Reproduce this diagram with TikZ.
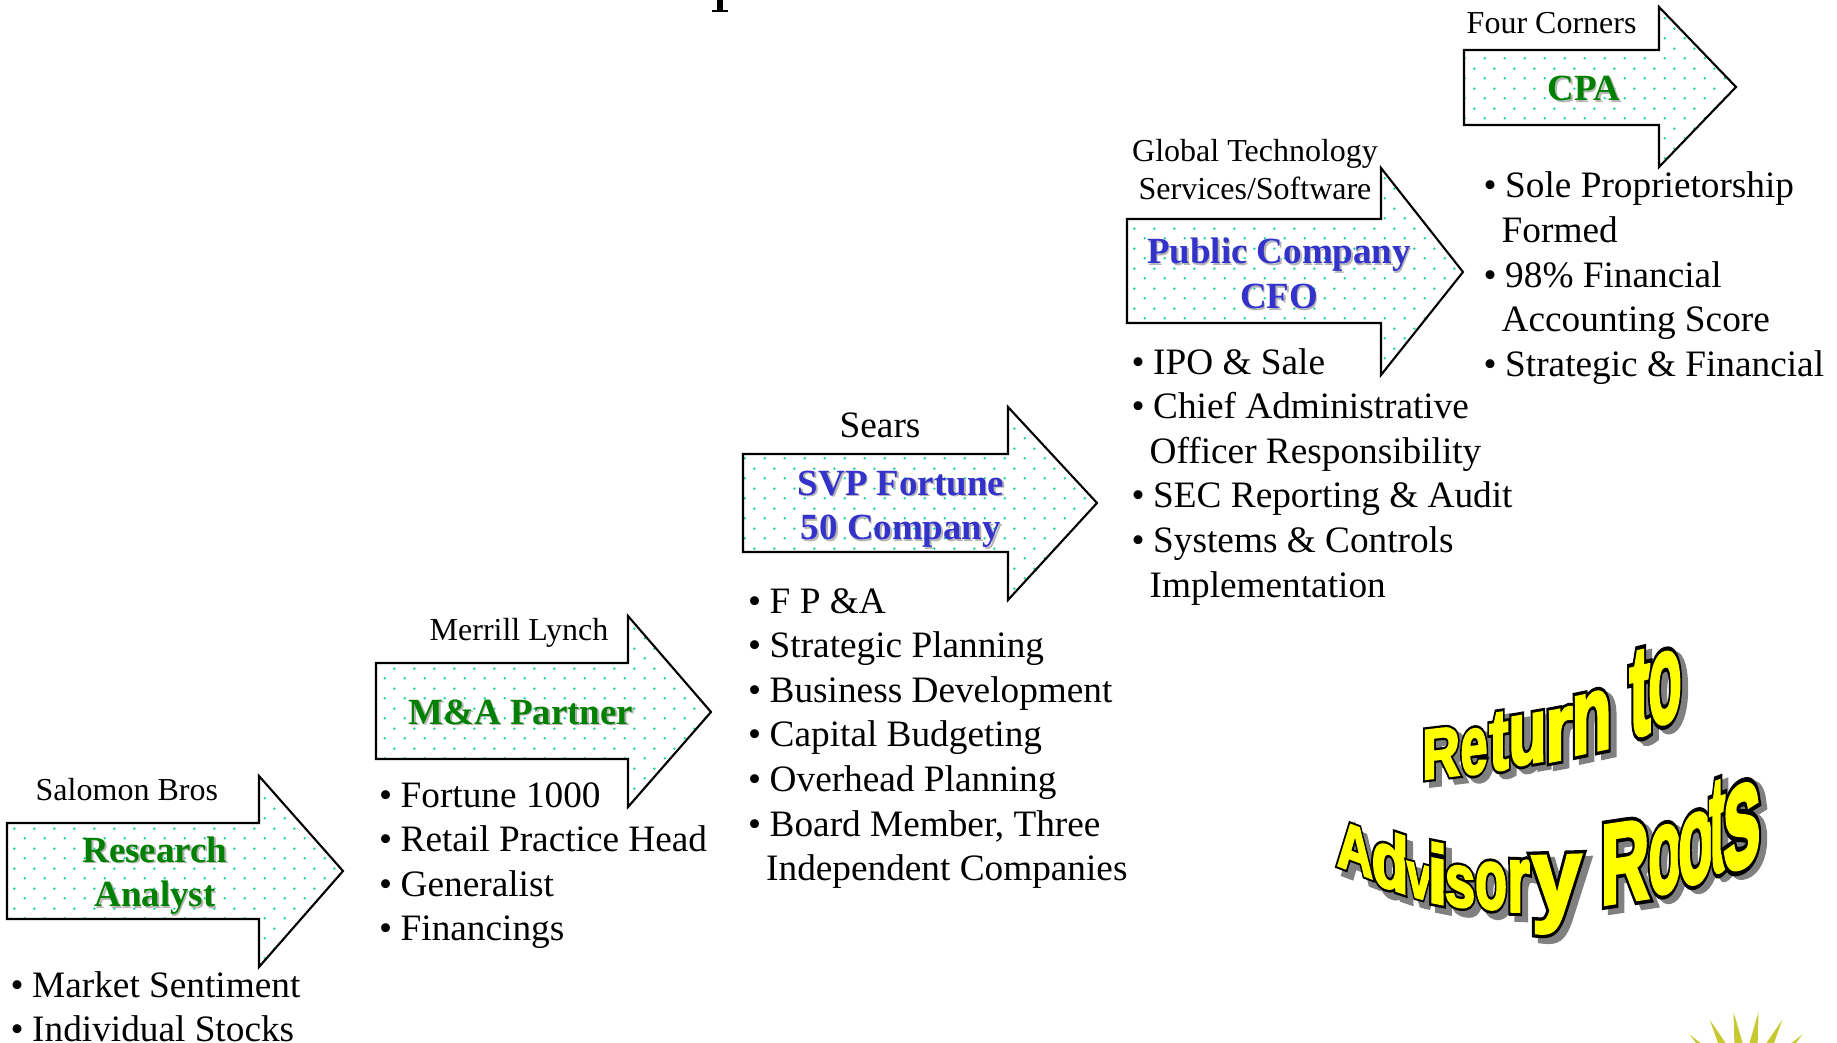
\documentclass[tikz,border=0pt]{standalone}
\usepackage{fontspec}
\setmainfont{Liberation Serif}
\newfontfamily\wafont{Liberation Sans Bold}[FakeBold=3.5]
\newfontfamily\wablack{Liberation Sans Bold}[FakeBold=10]
\usetikzlibrary{patterns}
\definecolor{dotteal}{RGB}{30,212,168}
\definecolor{ttlgreen}{RGB}{0,128,0}
\definecolor{ttlblue}{RGB}{51,51,204}
\definecolor{ttlshadow}{RGB}{180,180,180}
\definecolor{wagray}{RGB}{128,128,128}
\definecolor{wayellow}{RGB}{255,255,0}
\definecolor{burst}{RGB}{200,200,50}
\pgfdeclarepatternformonly{arrowdots}{\pgfpointorigin}{\pgfpoint{0.2cm}{0.2cm}}{\pgfpoint{0.2cm}{0.2cm}}{%
  \pgfpathcircle{\pgfpoint{0.05cm}{0.05cm}}{0.4pt}%
  \pgfpathcircle{\pgfpoint{0.15cm}{0.15cm}}{0.4pt}%
  \pgfusepath{fill}}
\newcommand\bulmark{\makebox[0.215cm][l]{\textbullet}}
\newcommand\bulline[1]{\hbox{\bulmark #1}}
\newcommand\contline[1]{\hbox{\hspace{0.215cm}\kern-1pt #1}}
\newcommand\ttlnode[5]{%
  \node[ttl, text=ttlshadow] (#1s) at (#2+1.6,#3+1.6) {\vtop{\halign{\hfil##\hfil\cr #5\cr}}};
  \node[ttl, text=#4] (#1) at (#2,#3) {\vtop{\halign{\hfil##\hfil\cr #5\cr}}};}
\newcommand\waL[7]{%
  \begin{scope}[shift={(#2,#3)}, yslant=#4]
    \node[waletter, text=wagray, xscale=#5, yscale=#6] (#1s) at (6,6) {\wablack #7};
    \node[waletter, text=black, xscale=#5, yscale=#6] (#1k) at (0,0) {\wablack #7};
    \node[waletter, text=wayellow, xscale=#5, yscale=#6] (#1) at (0,0) {\wafont #7};
  \end{scope}}
\begin{document}
\begin{tikzpicture}[x=0.01cm, y=-0.01cm,
  arrowbox/.style={draw=black, line width=0.6pt, line join=miter, preaction={fill=white}, pattern=arrowdots, pattern color=dotteal},
  bul/.style={anchor=base west, inner sep=0, font=\fontsize{10.6}{12.7}\selectfont},
  lab/.style={inner sep=0, font=\fontsize{9.1}{10.8}\selectfont},
  ttl/.style={anchor=base, inner sep=0, font=\fontsize{10.5}{12.7}\selectfont\bfseries},
  waletter/.style={anchor=base, inner sep=0, outer sep=0, transform shape, font=\fontsize{10}{12}\selectfont}]
\useasboundingbox (0,0) rectangle (1837,1043);
\begin{scope}
\clip (0,0) rectangle (1837,1043);
% partial title glyph at top
\fill[black] (717,0) rectangle (723,11);
\fill[black] (712,10) rectangle (728,12.5);
% sunburst
\begin{scope}[shift={(1746,1091)}]
  \foreach \a in {-153,-135,-117,-99,-81,-63,-45,-27}
    \fill[burst] (\a:80) -- (\a+18:24) -- (\a-18:24) -- cycle;
\end{scope}
\end{scope}

% arrows
\draw[arrowbox] (7,823) -- (259,823) -- (259,776) -- (343,871) -- (259,967) -- (259,919) -- (7,919) -- cycle;
\draw[arrowbox] (376,663) -- (628,663) -- (628,616) -- (711,712) -- (628,807) -- (628,759) -- (376,759) -- cycle;
\draw[arrowbox] (743,454) -- (1008,454) -- (1008,407) -- (1097,503) -- (1008,600) -- (1008,552) -- (743,552) -- cycle;
\draw[arrowbox] (1127,219) -- (1381,219) -- (1381,168) -- (1463,272) -- (1381,375) -- (1381,323) -- (1127,323) -- cycle;
\draw[arrowbox] (1464,50) -- (1659,50) -- (1659,7) -- (1736,87) -- (1659,167) -- (1659,125) -- (1464,125) -- cycle;

% titles
\ttlnode{t1}{155}{862}{ttlgreen}{Research\cr Analyst}
\ttlnode{t2}{521}{724}{ttlgreen}{M\&A Partner}
\ttlnode{t3}{901}{495}{ttlblue}{SVP Fortune\cr 50 Company}
\ttlnode{t4}{1279}{264}{ttlblue}{Public Company\cr CFO}
\ttlnode{t5}{1584}{101}{ttlgreen}{CPA}

% employer labels
\node[lab, anchor=base west] (l1) at (35,800) {Salomon Bros};
\node[lab, anchor=base west] (l2) at (429,640) {Merrill Lynch};
\node[lab, anchor=base west, font=\fontsize{10.6}{12.7}\selectfont] (l3) at (839,437) {Sears};
\node[lab, anchor=base] (l4) at (1255,161.5) {\vtop{\halign{\hfil#\hfil\cr Global Technology\cr Services/Software\cr}}};
\node[lab, anchor=base west] (l5) at (1466,34) {Four Corners};

% bullet lists
\node[bul] (b1) at (10,997) {\vtop{\bulline{Market Sentiment}\bulline{Individual Stocks}}};
\node[bul] (b2) at (378.5,807) {\vtop{\bulline{Fortune 1000}\bulline{Retail Practice Head}\bulline{Generalist}\bulline{Financings}}};
\node[bul] (b3) at (747.5,613) {\vtop{\bulline{F P \&A}\bulline{Strategic Planning}\bulline{Business Development}\bulline{Capital Budgeting}\bulline{Overhead Planning}\bulline{Board Member, Three}\contline{Independent Companies}}};
\node[bul] (b4) at (1131,374) {\vtop{\bulline{IPO \& Sale}\bulline{Chief Administrative}\contline{Officer Responsibility}\bulline{SEC Reporting \& Audit}\bulline{Systems \& Controls}\contline{Implementation}}};
\node[bul] (b5) at (1483,198) {\vtop{\bulline{Sole Proprietorship}\contline{Formed}\bulline{98\% Financial}\contline{Accounting Score}\bulline{Strategic \& Financial}}};

% WordArt: Return to
\waL{w1}{1441}{777}{0.12}{1.48}{1.99}{R}
\waL{w2}{1474}{773.5}{0.13}{1.37}{2.33}{e}
\waL{w3}{1499}{769.5}{0.15}{1.62}{2.45}{t}
\waL{w4}{1527.5}{763}{0.17}{1.76}{2.57}{u}
\waL{w5}{1559}{759.5}{0.19}{1.99}{2.65}{r}
\waL{w6}{1591.5}{751}{0.21}{1.85}{3.04}{n}
\waL{w7}{1640}{734.5}{0.24}{1.79}{3.61}{t}
\waL{w8}{1665}{722}{0.25}{1.54}{3.64}{o}
% WordArt: Advisory Roots
\waL{v1}{1355}{872}{-0.38}{1.42}{1.88}{A}
\waL{v2}{1390}{888.5}{-0.33}{1.71}{2.22}{d}
\waL{v3}{1419}{898}{-0.27}{1.25}{1.79}{v}
\waL{v4}{1437.5}{903}{-0.2}{1.99}{2.33}{i}
\waL{v5}{1460}{906.3}{-0.14}{1.54}{2.11}{s}
\waL{v6}{1491}{908.5}{-0.08}{1.48}{2.42}{o}
\waL{v7}{1518.5}{911.3}{-0.03}{1.65}{2.67}{r}
\waL{v8}{1556.5}{911}{0.03}{2.53}{2.96}{y}
\waL{v9}{1625}{901}{0.15}{1.91}{3.22}{R}
\waL{v10}{1665}{892}{0.25}{1.54}{3.47}{o}
\waL{v11}{1695.8}{882}{0.33}{1.62}{3.59}{o}
\waL{v12}{1717.5}{871}{0.38}{1.37}{3.87}{t}
\waL{v13}{1741.7}{866}{0.4}{1.93}{4.24}{s}
\end{tikzpicture}
\end{document}
